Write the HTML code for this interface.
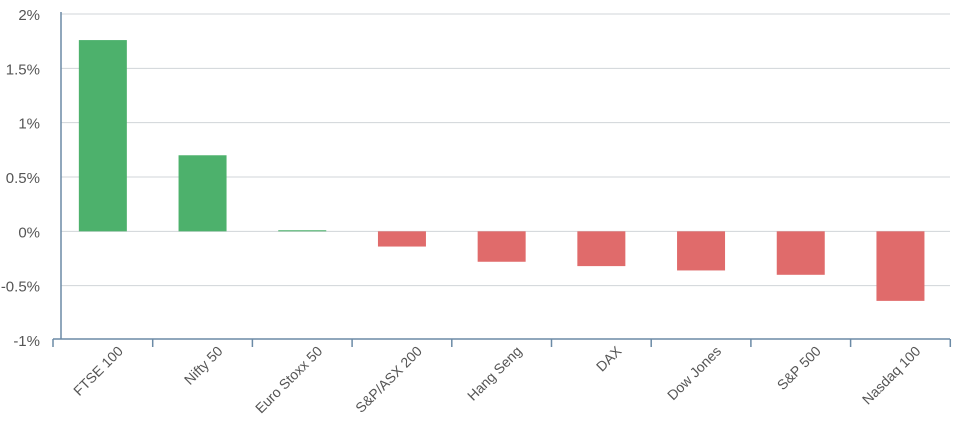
<!DOCTYPE html>
<html><head><meta charset="utf-8"><style>
body{margin:0;background:#fff;}
svg{display:block;font-family:"Liberation Sans",sans-serif;}
</style></head><body>
<svg id="chart" width="969" height="442" xmlns="http://www.w3.org/2000/svg"></svg>
<script>
const categories=["FTSE 100","Nifty 50","Euro Stoxx 50","S&P/ASX 200","Hang Seng","DAX","Dow Jones","S&P 500","Nasdaq 100"];
const values=[1.76,0.70,0.01,-0.14,-0.28,-0.32,-0.36,-0.40,-0.64];
const tickValues=[2,1.5,1,0.5,0,-0.5,-1];
const tickLabels=["2%","1.5%","1%","0.5%","0%","-0.5%","-1%"];
const svgEl=document.getElementById('chart');
const NS="http://www.w3.org/2000/svg";
const x0=53,bw=99.7,plotTop=14,plotBottom=340;
function yScale(v){return plotTop+(2-v)/3*(plotBottom-plotTop);}
function xc(i){return x0+bw*i+bw/2;}
function mk(t,a){const e=document.createElementNS(NS,t);for(const k in a)e.setAttribute(k,a[k]);svgEl.appendChild(e);return e;}
tickValues.forEach((v,i)=>{
  if(v>-1){const g=mk('line',{x1:61,x2:950,y1:yScale(v),y2:yScale(v),stroke:'#d0d4d8','stroke-width':1});
  
  }
  const t=mk('text',{x:40,y:yScale(v)+6,'text-anchor':'end','font-size':15,fill:'#555'});
  t.textContent=tickLabels[i];
  
  
});
values.forEach((v,i)=>{
  const y1=yScale(Math.max(v,0)),y2=yScale(Math.min(v,0));
  const r=mk('rect',{x:xc(i)-24,y:y1,width:48,height:Math.max(1,y2-y1),fill:v>=0?'#4db16c':'#e06b6b'});
  
  
  const cx=xc(i)+21,cy=352;
  const t=mk('text',{x:cx,y:cy,'text-anchor':'end','font-size':14,fill:'#555',transform:'rotate(-45 '+cx+' '+cy+')'});
  t.textContent=categories[i];
  
  
});
const ya=mk('line',{x1:61,x2:61,y1:12,y2:339,stroke:'#6b8aa6','stroke-width':1.5});


const xa=mk('line',{x1:53,x2:950,y1:339,y2:339,stroke:'#6b8aa6','stroke-width':1.5});


for(let i=0;i<=categories.length;i++){
  const tk=mk('line',{x1:x0+bw*i,x2:x0+bw*i,y1:339,y2:347,stroke:'#6b8aa6','stroke-width':1.5});
  
  
}
</script>
</body></html>
